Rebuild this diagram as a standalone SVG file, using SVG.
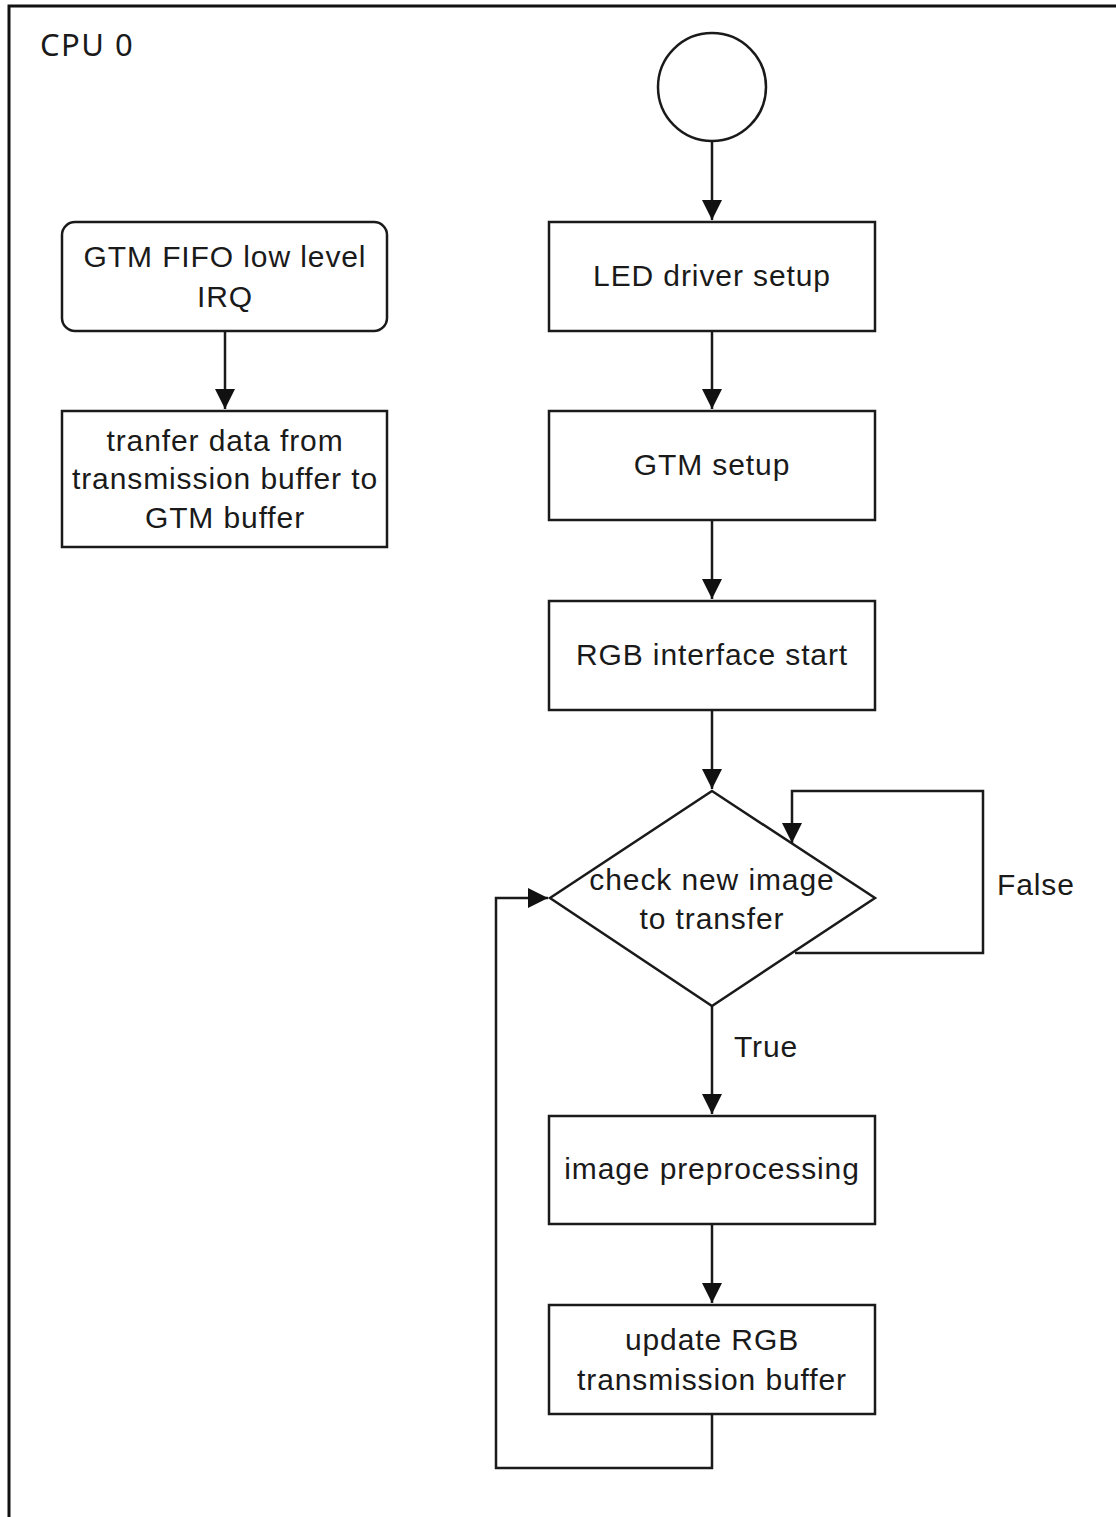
<svg xmlns="http://www.w3.org/2000/svg" width="1116" height="1517" viewBox="0 0 1116 1517">
<style>
.box{fill:#fff;stroke:#1a1a1a;stroke-width:2.5}
.ln{fill:none;stroke:#1a1a1a;stroke-width:2.5}
.t{font-family:"Liberation Sans",Arial,sans-serif;font-size:30px;letter-spacing:0.9px;fill:#1a1a1a;text-anchor:middle}
.lbl{font-family:"Liberation Sans",Arial,sans-serif;font-size:30px;letter-spacing:0.9px;fill:#1a1a1a}
</style>
<defs>
<marker id="ah" markerUnits="userSpaceOnUse" markerWidth="22" markerHeight="22" refX="20" refY="10" orient="auto">
<path d="M0,0 L20,10 L0,20 Z" fill="#111"/>
</marker>
</defs>
<rect width="1116" height="1517" fill="#fff"/>
<path d="M9,1517 V6 H1116" fill="none" stroke="#111" stroke-width="3"/>
<text x="40" y="56" style="font-family:'Noto Sans','Open Sans',sans-serif;font-size:31px;letter-spacing:1.5px;fill:#1a1a1a">CPU 0</text>

<g id="connectors">
<path class="ln" d="M712,141 V220" marker-end="url(#ah)"/>
<path class="ln" d="M712,331 V409" marker-end="url(#ah)"/>
<path class="ln" d="M712,520 V599" marker-end="url(#ah)"/>
<path class="ln" d="M712,710 V789" marker-end="url(#ah)"/>
<path class="ln" d="M712,1006 V1114" marker-end="url(#ah)"/>
<path class="ln" d="M712,1224 V1303" marker-end="url(#ah)"/>
<path class="ln" d="M712,1414 V1468 H496 V898 H548" marker-end="url(#ah)"/>
<path class="ln" d="M795,953 H983 V791 H792 V843" marker-end="url(#ah)"/>
<path class="ln" d="M225,331 V409" marker-end="url(#ah)"/>
<text class="lbl" x="734" y="1057">True</text>
<text class="lbl" x="997" y="895">False</text>
</g>

<g id="start">
<circle class="box" cx="712" cy="87" r="54"/>
</g>
<g id="led">
<rect class="box" x="549" y="222" width="326" height="109"/>
<text class="t" x="712" y="286">LED driver setup</text>
</g>
<g id="gtm">
<rect class="box" x="549" y="411" width="326" height="109"/>
<text class="t" x="712" y="475">GTM setup</text>
</g>
<g id="rgb">
<rect class="box" x="549" y="601" width="326" height="109"/>
<text class="t" x="712" y="665">RGB interface start</text>
</g>
<g id="check">
<path class="box" d="M712,791 L875,898 L712,1006 L550,898 Z"/>
<text class="t" x="712" y="890">check new image</text>
<text class="t" x="712" y="929">to transfer</text>
</g>
<g id="prep">
<rect class="box" x="549" y="1116" width="326" height="108"/>
<text class="t" x="712" y="1179">image preprocessing</text>
</g>
<g id="update">
<rect class="box" x="549" y="1305" width="326" height="109"/>
<text class="t" x="712" y="1350">update RGB</text>
<text class="t" x="712" y="1390">transmission buffer</text>
</g>
<g id="irq">
<rect class="box" x="62" y="222" width="325" height="109" rx="13"/>
<text class="t" x="225" y="267">GTM FIFO low level</text>
<text class="t" x="225" y="307">IRQ</text>
</g>
<g id="transfer">
<rect class="box" x="62" y="411" width="325" height="136"/>
<text class="t" x="225" y="451">tranfer data from</text>
<text class="t" x="225" y="489">transmission buffer to</text>
<text class="t" x="225" y="528">GTM buffer</text>
</g>
</svg>
